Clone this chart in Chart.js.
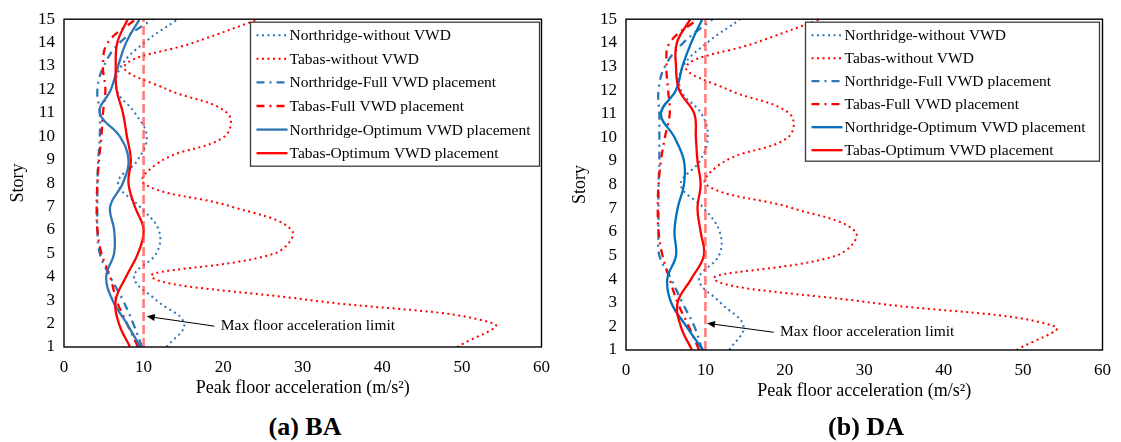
<!DOCTYPE html>
<html>
<head>
<meta charset="utf-8">
<script src="https://cdn.jsdelivr.net/npm/chart.js@4.4.0/dist/chart.umd.min.js"></script>
<style>
    body { margin: 0; background: #fff; width: 1121px; height: 442px; position: relative; overflow: hidden; font-family: "Liberation Serif", "Times New Roman", serif; }
    .panel { position: absolute; top: 0; }
    #panelA { left: 0; width: 560px; height: 410px; }
    #panelB { left: 562px; width: 559px; height: 413px; }
    .caption { position: absolute; top: 412px; width: 200px; text-align: center; font-weight: bold; font-size: 26px; color: #000; }
</style>
</head>
<body>
<div class="panel" id="panelA"><canvas id="chartBA"></canvas></div>
<div class="panel" id="panelB"><canvas id="chartDA"></canvas></div>
<div class="caption" style="left:205px">(a) BA</div>
<div class="caption" style="left:766px">(b) DA</div>

<script>
// --- Data ---
const stories = [1, 2, 3, 4, 5, 6, 7, 8, 9, 10, 11, 12, 13, 14, 15];
const accelLimit = 10;
const seriesNames = [
    'Northridge-without VWD',
    'Tabas-without VWD',
    'Northridge-Full VWD placement',
    'Tabas-Full VWD placement',
    'Northridge-Optimum VWD placement',
    'Tabas-Optimum VWD placement'
];

// (a) BA
const nrWithoutBA   = [12.9, 15.1, 11.6, 8.8, 11.6, 11.9, 9.5, 6.8, 9.3, 10.4, 8.9, 6.6, 7.2, 10.1, 14.3];
const tabasWithoutBA = [49.4, 54.0, 31.0, 11.0, 26.5, 28.6, 21.0, 10.0, 12.5, 20.2, 20.5, 13.0, 7.6, 16.3, 24.5];
const nrFullBA      = [9.8, 8.7, 7.4, 5.8, 4.5, 4.2, 4.2, 4.2, 4.3, 4.5, 4.5, 4.2, 5.0, 7.0, 11.1];
const tabasFullBA   = [9.3, 7.9, 6.6, 5.8, 4.7, 4.2, 4.1, 4.2, 4.4, 4.7, 4.9, 5.2, 4.9, 5.5, 9.0];
const nrOptBA       = [9.6, 7.9, 6.1, 5.3, 6.3, 6.3, 5.8, 7.4, 8.1, 7.0, 4.5, 5.9, 6.8, 7.8, 9.5];
const tabasOptBA    = [8.3, 6.9, 6.5, 7.8, 9.3, 10.0, 8.9, 8.1, 8.4, 7.9, 7.4, 6.6, 6.5, 6.7, 8.0];

// (b) DA
const nrWithoutDA   = [13.0, 14.8, 11.9, 9.2, 11.7, 11.8, 9.8, 6.9, 9.3, 10.3, 9.5, 6.9, 7.2, 10.2, 14.4];
const tabasWithoutDA = [49.2, 54.0, 31.0, 11.1, 26.5, 28.9, 21.0, 10.1, 12.5, 20.4, 20.6, 13.0, 7.6, 16.3, 24.5];
const nrFullDA      = [9.6, 8.6, 7.1, 5.7, 4.2, 4.1, 4.1, 4.1, 4.2, 4.2, 4.2, 4.1, 4.9, 7.2, 10.9];
const tabasFullDA   = [9.2, 7.9, 6.5, 5.5, 4.6, 4.1, 4.0, 4.1, 4.4, 4.9, 5.5, 5.3, 5.1, 5.5, 9.0];
const nrOptDA       = [9.7, 7.6, 5.7, 5.2, 6.3, 6.1, 6.5, 7.3, 7.3, 6.1, 4.4, 6.3, 7.1, 8.2, 9.6];
const tabasOptDA    = [8.3, 6.9, 6.5, 8.2, 9.8, 9.4, 9.0, 9.4, 9.0, 8.8, 8.6, 6.7, 6.3, 6.4, 8.1];

// --- Styles ---
const FONT = '"Liberation Serif", "Times New Roman", serif';
const BLUE = '#2e75b6';
const RED = '#ff0000';
const DOT = [2, 3.5];
const DASH_DOT = [8, 5, 2, 5];

function toPoints(values) {
    return values.map((v, i) => ({ x: v, y: stories[i] }));
}

function buildDatasets(series, blueSolid) {
    const styles = [
        { color: BLUE, dash: DOT, width: 2 },
        { color: RED, dash: DOT, width: 2 },
        { color: BLUE, dash: DASH_DOT, width: 2.3 },
        { color: RED, dash: DASH_DOT, width: 2.3 },
        { color: blueSolid, dash: [], width: 2.3 },
        { color: RED, dash: [], width: 2.3 }
    ];
    const sets = series.map((vals, i) => ({
        label: seriesNames[i],
        data: toPoints(vals),
        showLine: true,
        borderColor: styles[i].color,
        borderDash: styles[i].dash,
        borderWidth: styles[i].width,
        pointRadius: 0,
        tension: 0.4,
        order: 6 - i
    }));
    // vertical limit line
    sets.push({
        label: 'limit',
        isLimit: true,
        data: [{ x: accelLimit, y: stories[0] }, { x: accelLimit, y: stories[stories.length - 1] }],
        showLine: true,
        borderColor: 'rgba(255, 70, 70, 0.7)',
        borderDash: [9, 4],
        borderWidth: 2.6,
        pointRadius: 0,
        tension: 0,
        order: 0
    });
    return sets;
}

// --- Plugins ---
const framePlugin = {
    id: 'frame',
    afterDatasetsDraw(chart) {
        const { ctx, chartArea: a } = chart;
        ctx.save();
        ctx.strokeStyle = '#000';
        ctx.lineWidth = 1.4;
        ctx.strokeRect(a.left, a.top, a.right - a.left, a.bottom - a.top);
        ctx.restore();
    }
};

const limitNote = {
    id: 'limitNote',
    afterDatasetsDraw(chart, args, opts) {
        const { ctx, scales } = chart;
        const tipX = scales.x.getPixelForValue(opts.tip[0]);
        const tipY = scales.y.getPixelForValue(opts.tip[1]);
        const tailX = scales.x.getPixelForValue(opts.tail[0]);
        const tailY = scales.y.getPixelForValue(opts.tail[1]);
        const ang = Math.atan2(tipY - tailY, tipX - tailX);
        ctx.save();
        ctx.strokeStyle = '#000';
        ctx.fillStyle = '#000';
        ctx.lineWidth = 1;
        ctx.beginPath();
        ctx.moveTo(tailX, tailY);
        ctx.lineTo(tipX - 6 * Math.cos(ang), tipY - 6 * Math.sin(ang));
        ctx.stroke();
        ctx.beginPath();
        ctx.moveTo(tipX, tipY);
        ctx.lineTo(tipX - 8 * Math.cos(ang) + 3.5 * Math.sin(ang), tipY - 8 * Math.sin(ang) - 3.5 * Math.cos(ang));
        ctx.lineTo(tipX - 8 * Math.cos(ang) - 3.5 * Math.sin(ang), tipY - 8 * Math.sin(ang) + 3.5 * Math.cos(ang));
        ctx.closePath();
        ctx.fill();
        ctx.font = '15.5px ' + FONT;
        ctx.textBaseline = 'middle';
        ctx.fillText(opts.text, scales.x.getPixelForValue(opts.textAt[0]), scales.y.getPixelForValue(opts.textAt[1]));
        ctx.restore();
    }
};

const insideLegend = {
    id: 'insideLegend',
    afterDraw(chart, args, opts) {
        const { ctx, chartArea } = chart;
        const items = chart.data.datasets.filter(d => !d.isLimit);
        const x0 = chartArea.right - opts.right - opts.width;
        const y0 = chartArea.top + opts.top;
        ctx.save();
        ctx.fillStyle = '#fff';
        ctx.fillRect(x0, y0, opts.width, opts.height);
        ctx.strokeStyle = '#3a3a3a';
        ctx.lineWidth = 1.3;
        ctx.strokeRect(x0, y0, opts.width, opts.height);
        items.forEach((d, i) => {
            const cy = y0 + opts.first + i * opts.rowH;
            ctx.beginPath();
            ctx.setLineDash(d.borderDash);
            ctx.strokeStyle = d.borderColor;
            ctx.lineWidth = d.borderWidth;
            ctx.moveTo(x0 + 6, cy);
            ctx.lineTo(x0 + 37, cy);
            ctx.stroke();
            ctx.setLineDash([]);
            ctx.fillStyle = '#000';
            ctx.font = '15.5px ' + FONT;
            ctx.textBaseline = 'middle';
            ctx.fillText(d.label, x0 + 39, cy + 1);
        });
        ctx.restore();
    }
};

function makePanel(canvasId, series, blueSolid, layout) {
    const ctx = document.getElementById(canvasId).getContext('2d');
    return new Chart(ctx, {
        type: 'scatter',
        data: { datasets: buildDatasets(series, blueSolid) },
        options: {
            responsive: true,
            maintainAspectRatio: false,
            animation: false,
            layout: { padding: { top: 15, right: layout.padRight, left: 0, bottom: 0 } },
            plugins: {
                legend: { display: false },
                tooltip: { enabled: false },
                insideLegend: layout.legend,
                limitNote: layout.note
            },
            scales: {
                x: {
                    type: 'linear', min: 0, max: 60,
                    ticks: { stepSize: 10, color: '#000', padding: 10, font: { family: FONT, size: 17 } },
                    grid: { display: false, drawTicks: false },
                    border: { display: false },
                    title: { display: true, text: 'Peak floor acceleration (m/s²)', color: '#000', font: { family: FONT, size: 18 }, padding: { top: 0, bottom: 11 } },
                    afterFit: s => { s.height = layout.xHeight; }
                },
                y: {
                    type: 'linear', min: 1, max: 15,
                    ticks: { stepSize: 1, color: '#000', padding: 9, font: { family: FONT, size: 17 } },
                    grid: { display: false, drawTicks: false },
                    border: { display: false },
                    title: { display: true, text: 'Story', color: '#000', font: { family: FONT, size: 18 }, padding: { top: 7, bottom: 0 } },
                    afterFit: s => { s.width = 64; }
                }
            }
        },
        plugins: [framePlugin, limitNote, insideLegend]
    });
}

const noteText = 'Max floor acceleration limit';

makePanel('chartBA', [nrWithoutBA, tabasWithoutBA, nrFullBA, tabasFullBA, nrOptBA, tabasOptBA], BLUE, {
    padRight: 17, xHeight: 63,
    legend: { right: 2, top: 3, width: 289, height: 144, first: 13, rowH: 23.6 },
    note: { tip: [10.4, 2.31], tail: [18.9, 1.89], textAt: [19.7, 1.89], text: noteText }
});

makePanel('chartDA', [nrWithoutDA, tabasWithoutDA, nrFullDA, tabasFullDA, nrOptDA, tabasOptDA], '#0070c0', {
    padRight: 13, xHeight: 63,
    legend: { right: 3, top: 3, width: 294, height: 139, first: 13, rowH: 23 },
    note: { tip: [10.2, 2.13], tail: [18.6, 1.75], textAt: [19.4, 1.75], text: noteText }
});
</script>
</body>
</html>
